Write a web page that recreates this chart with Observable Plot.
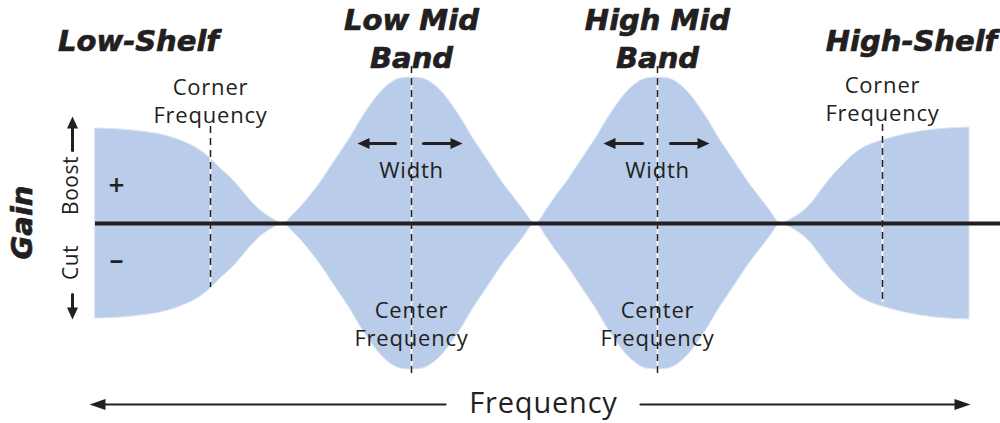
<!DOCTYPE html>
<html><head><meta charset="utf-8">
<script src="https://cdn.jsdelivr.net/npm/d3@7"></script>
<script src="https://cdn.jsdelivr.net/npm/@observablehq/plot@0.6"></script>
<style>
html,body{margin:0;padding:0;background:#fff;}
#chart svg{display:block;}
</style>
</head><body><div id="chart"></div>
<script>
// Frequency positions (arbitrary log-frequency units) and boost gain (dB-like units) of the EQ envelope
const freq = [95,120,140,160,180,200,210,220,230,240,250,260,270,284,
  290,300,310,320,330,340,350,360,370,380,390,400,411,
  422,432,442,452,462,472,482,492,502,512,522,535,
  547,556,566,576,586,596,606,616,626,636,646,657,
  668,678,688,698,708,718,728,738,748,758,768,781,
  790,800,810,820,830,840,850,860,870,882,900,920,940,969];
const gain = [9.5,9.4,9.2,8.9,8.3,7.3,6.5,5.5,4.6,3.5,2.3,1.3,0.6,0,
  0.6,1.6,2.8,4.1,5.6,7.1,8.6,10.3,11.8,13.1,14.0,14.5,14.6,
  14.5,14.0,13.1,11.8,10.3,8.6,7.1,5.6,4.1,2.8,1.5,0,
  1.5,2.8,4.1,5.6,7.1,8.6,10.3,11.8,13.1,14.0,14.5,14.6,
  14.5,14.0,13.1,11.8,10.3,8.6,7.1,5.6,4.1,2.8,1.5,0,
  0.4,1.0,1.9,3.2,4.5,5.6,6.6,7.4,7.9,8.3,8.8,9.2,9.45,9.6];

// Band titles
const titleText = ["Low-Shelf","Low Mid","Band","High Mid","Band","High-Shelf"];
const titleX = [138,411,411,657,657,911];
const titleY = [17.3,19.4,15.6,19.4,15.6,17.3];

// Annotation labels
const noteText = ["Corner","Frequency","Width","Width","Center","Frequency","Center","Frequency","Corner","Frequency"];
const noteX = [210,210,411,657,411,411,657,657,882,882];
const noteY = [12.85,10.1,4.6,4.6,-9.4,-12.2,-9.4,-12.2,13.1,10.3];

// Corner / center frequency markers
const markerX = [210,411,657,882];
const markerTop = [9.7,15.7,15.7,9.9];
const markerBottom = [-6.4,-15.5,-15.5,-7.9];

// Arrows
const arrowX1 = [72,72,395,423,642,670,445,640];
const arrowY1 = [7.3,-7.1,8.0,8.0,8.0,8.0,-18.1,-18.1];
const arrowX2 = [72,72,357,462,603,709,89,970];
const arrowY2 = [10.7,-9.6,8.0,8.0,8.0,8.0,-18.1,-18.1];
const arrowDir = ["up","down","left","right","left","right","left","right"];
const arrowSize = ["m","m","m","m","m","m","l","l"];

const ink = "#231f20";
const fillBlue = "#b9cce9";
const body = "Open Sans";
const heavy = "DejaVu Sans";

const env = freq.map((f, i) => ({f, g: gain[i]}));
const titles = titleText.map((t, i) => ({t, x: titleX[i], y: titleY[i]}));
const notes = noteText.map((t, i) => ({t, x: noteX[i], y: noteY[i]}));
const markers = markerX.map((x, i) => ({x, y1: markerTop[i], y2: markerBottom[i]}));
const arrows = arrowX1.map((x1, i) => ({x1, y1: arrowY1[i], x2: arrowX2[i], y2: arrowY2[i], dir: arrowDir[i], size: arrowSize[i]}));

function head(len, hw, dir) {
  return {draw(ctx) {
    const pts = {
      up: [[0,0],[hw,len],[-hw,len]],
      down: [[0,0],[hw,-len],[-hw,-len]],
      left: [[0,0],[len,hw],[len,-hw]],
      right: [[0,0],[-len,hw],[-len,-hw]]
    }[dir];
    ctx.moveTo(pts[0][0], pts[0][1]);
    ctx.lineTo(pts[1][0], pts[1][1]);
    ctx.lineTo(pts[2][0], pts[2][1]);
    ctx.closePath();
  }};
}
const headMarks = [];
for (const dir of ["up","down","left","right"]) {
  for (const [size, len, hw] of [["m", 12, 5.5], ["l", 16, 5.5]]) {
    const sub = arrows.filter(a => a.dir === dir && a.size === size);
    if (sub.length) headMarks.push(Plot.dot(sub, {x: "x2", y: "y2", symbol: head(len, hw, dir), fill: ink, stroke: "none", r: 5}));
  }
}

const chart = Plot.plot({
  width: 1000,
  height: 423,
  marginLeft: 0, marginRight: 0, marginTop: 0, marginBottom: 0,
  x: {domain: [0, 1000], axis: null},
  y: {domain: [-20.0, 22.3], axis: null},
  style: {background: "#fff", overflow: "visible"},
  marks: [
    Plot.areaY(env, {x: "f", y1: d => -d.g, y2: "g", curve: "monotone-x", fill: fillBlue, stroke: "#dbe5f4", strokeWidth: 1}),
    Plot.ruleX(markers, {x: "x", y1: "y1", y2: "y2", stroke: "#ffffff", strokeWidth: 1.6}),
    Plot.ruleX(markers, {x: "x", y1: "y1", y2: "y2", stroke: ink, strokeWidth: 1.5, strokeDasharray: "7,5"}),
    Plot.ruleY([0], {x1: 95, x2: 1000, stroke: ink, strokeWidth: 4}),
    Plot.arrow(arrows.filter(a => a.size === "m"), {x1: "x1", y1: "y1", x2: "x2", y2: "y2", stroke: ink, strokeWidth: 3, headLength: 0, insetEnd: 6}),
    Plot.arrow(arrows.filter(a => a.size === "l"), {x1: "x1", y1: "y1", x2: "x2", y2: "y2", stroke: ink, strokeWidth: 2.2, headLength: 0, insetEnd: 8}),
    ...headMarks,
    Plot.text(titles, {x: "x", y: "y", text: "t", lineAnchor: "bottom", fontFamily: heavy, fontWeight: "bold", fontStyle: "italic", fontSize: 29, fill: ink, stroke: ink, strokeWidth: 0.7}),
    Plot.text(notes, {x: "x", y: "y", text: "t", lineAnchor: "bottom", fontFamily: body, fontSize: 22, fill: ink}),
    Plot.text(["Frequency"], {x: 543, y: -18.9, text: d => d, lineAnchor: "bottom", fontFamily: body, fontSize: 29, fill: ink}),
    Plot.text(["Gain"], {x: 22, y: 0.1, text: d => d, rotate: -90, fontFamily: heavy, fontWeight: "bold", fontStyle: "italic", fontSize: 29, fill: ink, stroke: ink, strokeWidth: 0.7}),
    Plot.text(["Boost", "Cut"], {x: 71, y: [3.8, -3.9], text: d => d, rotate: -90, fontFamily: body, fontSize: 21, fill: ink}),
    Plot.text(["+", "–"], {x: 116, y: [3.7, -3.7], text: d => d, fontFamily: body, fontWeight: 600, fontSize: 28, fill: ink})
  ]
});
const textGroups = chart.querySelectorAll('g[aria-label="text"]');
textGroups[1].style.letterSpacing = "0.8px";
textGroups[2].style.letterSpacing = "0.8px";
textGroups[4].style.letterSpacing = "0.5px";
document.getElementById("chart").appendChild(chart);
</script>
</body></html>
